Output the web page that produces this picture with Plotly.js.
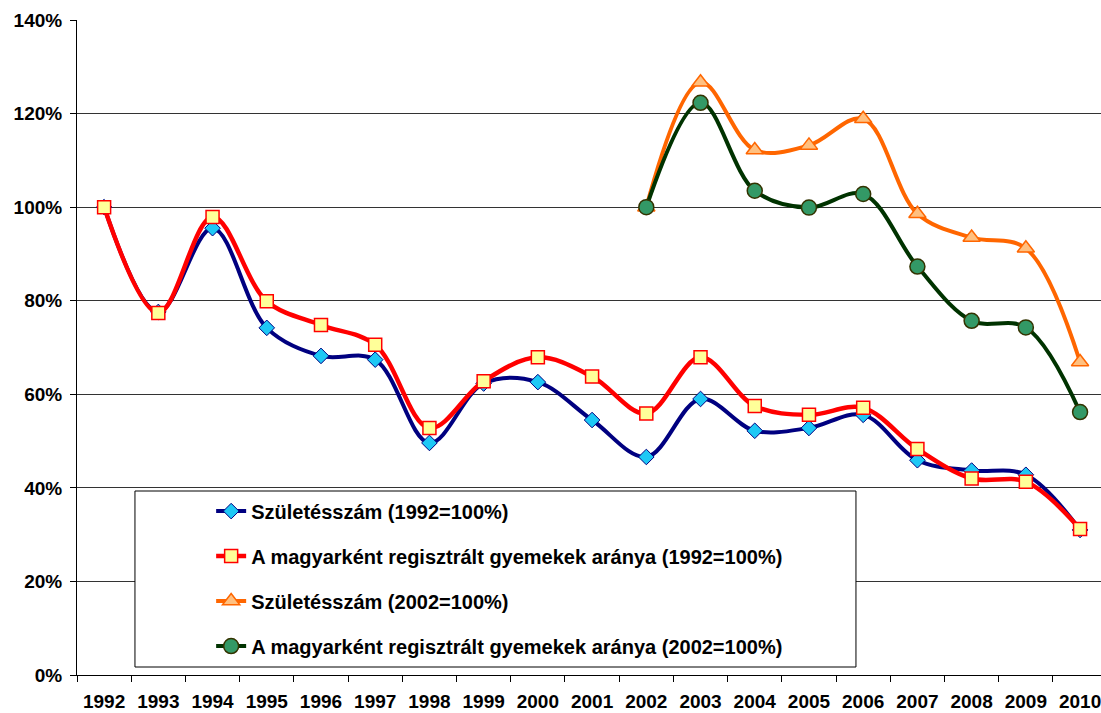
<!DOCTYPE html>
<html>
<head>
<meta charset="utf-8">
<script src="https://cdn.plot.ly/plotly-3.0.1.min.js"></script>
<style>html,body{margin:0;padding:0;background:#fff;}#chart{width:1101px;height:713px;}</style>
</head>
<body>
<div id="chart"></div>
<script>
const years = ['1992','1993','1994','1995','1996','1997','1998','1999','2000','2001','2002','2003','2004','2005','2006','2007','2008','2009','2010'];
const births1992 = [100, 77.6, 95.5, 74.2, 68.2, 67.4, 49.6, 62.3, 62.6, 54.5, 46.6, 59.0, 52.2, 52.8, 55.6, 45.9, 43.7, 42.8, 31.0];
const hungarian1992 = [100, 77.4, 97.9, 79.9, 74.8, 70.6, 52.8, 62.8, 67.9, 63.8, 55.9, 67.9, 57.5, 55.6, 57.1, 48.3, 42.0, 41.3, 31.2];
const births2002 = [null, null, null, null, null, null, null, null, null, null, 100, 126.7, 112.2, 113.2, 118.9, 98.6, 93.5, 91.2, 66.9];
const hungarian2002 = [null, null, null, null, null, null, null, null, null, null, 100, 122.3, 103.5, 99.9, 102.8, 87.3, 75.7, 74.3, 56.2];
const seriesNames = [
  'Születésszám (1992=100%)',
  'A magyarként regisztrált gyemekek aránya (1992=100%)',
  'Születésszám (2002=100%)',
  'A magyarként regisztrált gyemekek aránya (2002=100%)'
];

const font = 'Liberation Sans, Arial, sans-serif';

const traces = [
  {x: years, y: births1992, name: seriesNames[0], legendgroup: 'a', type: 'scatter', mode: 'lines+markers',
   line: {color: '#000080', width: 4, shape: 'spline', smoothing: 1},
   marker: {symbol: 'diamond', size: 12, color: '#1EC8F5', line: {color: '#000080', width: 1}}},
  {x: years, y: hungarian1992, name: seriesNames[1], legendgroup: 'b', type: 'scatter', mode: 'lines+markers',
   line: {color: '#FF0000', width: 4.5, shape: 'spline', smoothing: 1},
   marker: {symbol: 'square', size: 13, color: '#FFFF99', line: {color: '#FF0000', width: 1.5}}},
  {x: years, y: births2002, name: seriesNames[2], legendgroup: 'c', type: 'scatter', mode: 'lines+markers',
   line: {color: '#FF6600', width: 4, shape: 'spline', smoothing: 1},
   marker: {symbol: 'triangle-up', size: 15, color: '#FFC080', line: {color: '#FF6600', width: 1.5}}},
  {x: years, y: hungarian2002, name: seriesNames[3], legendgroup: 'd', type: 'scatter', mode: 'lines+markers',
   line: {color: '#003300', width: 4, shape: 'spline', smoothing: 1},
   marker: {symbol: 'circle', size: 15, color: '#339966', line: {color: '#333300', width: 1.5}}}
];

const layout = {
  width: 1101, height: 713,
  margin: {l: 77, r: 0, t: 20, b: 38, pad: 0},
  paper_bgcolor: '#ffffff', plot_bgcolor: '#ffffff',
  font: {family: font, size: 19, color: '#000'},
  showlegend: true,
  legend: {
    x: 0.131, y: 0.280, xanchor: 'left', yanchor: 'top',
    bgcolor: 'rgba(0,0,0,0)', borderwidth: 0,
    traceorder: 'grouped', tracegroupgap: 16,
    font: {family: font, size: 20, color: '#000', weight: 'bold'},
    itemwidth: 30
  },
  xaxis: {
    type: 'category', range: [-0.5, 18.386], fixedrange: true,
    showline: true, linecolor: '#000', linewidth: 1,
    ticks: 'outside', tickson: 'boundaries', ticklen: 6, tickcolor: '#000', tickwidth: 1,
    showgrid: false, zeroline: false, ticklabelstandoff: 9,
    tickfont: {family: font, size: 19, color: '#000', weight: 'bold'}
  },
  yaxis: {
    range: [0, 140], dtick: 20, tick0: 0, ticksuffix: '%', fixedrange: true,
    showline: true, linecolor: '#000', linewidth: 1,
    ticks: 'outside', ticklen: 6, tickcolor: '#000', tickwidth: 1,
    showgrid: true, gridcolor: '#333', gridwidth: 1, zeroline: false,
    ticklabelstandoff: 4,
    tickfont: {family: font, size: 19, color: '#000', weight: 'bold'}
  },
  shapes: [{
    type: 'rect', xref: 'paper', yref: 'paper', layer: 'above',
    x0: 0.0566, x1: 0.7607, y0: 0.0122, y1: 0.2809,
    fillcolor: '#ffffff', line: {color: '#000', width: 1}
  }]
};

Plotly.newPlot('chart', traces, layout, {staticPlot: true, displayModeBar: false});
</script>
</body>
</html>
